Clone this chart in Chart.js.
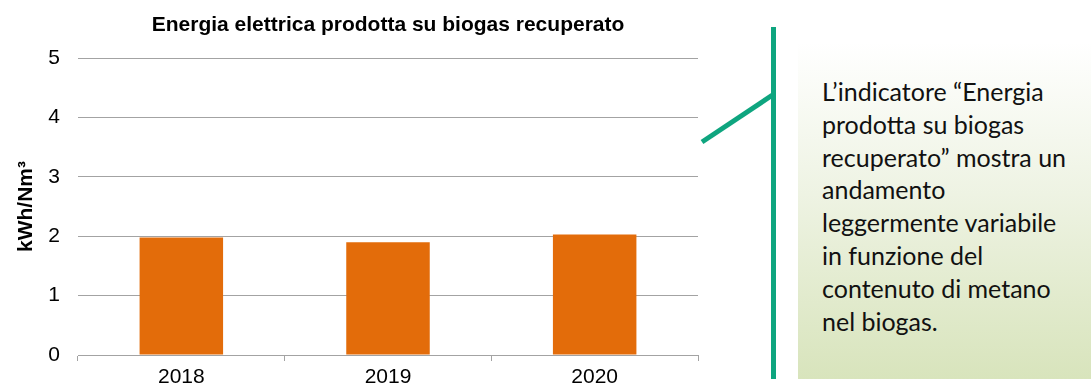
<!DOCTYPE html>
<html>
<head>
<meta charset="utf-8">
<script src="https://cdn.jsdelivr.net/npm/chart.js"></script>
<style>
    body { margin: 0; background: #fff; width: 1091px; height: 390px; position: relative; overflow: hidden; }
    #chartBox { position: absolute; left: 0; top: 0; width: 712px; height: 390px; }
    .green-bar { position: absolute; left: 771px; top: 27px; width: 5px; height: 352px; background: #0ea57f; }
    #connector { position: absolute; left: 0; top: 0; }
    .note {
        position: absolute; left: 798px; top: 42px; width: 293px; height: 337px;
        background: linear-gradient(to bottom, #ffffff 0%, #eef3e3 45%, #d8e4bc 100%);
    }
    .note p {
        margin: 0; position: absolute; left: 24px; top: 33px;
        font-family: Lato, sans-serif; font-size: 25px; line-height: 32.8px; color: #111;
    }
</style>
</head>
<body>
<div id="chartBox"><canvas id="energyChart" width="712" height="390"></canvas></div>
<svg id="connector" width="1091" height="390">
    <line x1="702" y1="142" x2="774" y2="94" stroke="#0ea57f" stroke-width="5"/>
</svg>
<div class="green-bar"></div>
<div class="note">
    <p>L’indicatore “Energia<br>prodotta su biogas<br>recuperato” mostra un<br>andamento<br>leggermente variabile<br>in funzione del<br>contenuto di metano<br>nel biogas.</p>
</div>

<script>
// Energia elettrica per Nm3 di biogas recuperato
const years = ['2018', '2019', '2020'];
const kwhPerNm3 = [1.98, 1.90, 2.03];
const yTicks = [0, 1, 2, 3, 4, 5];

const gridGray = '#a3a3a3';

new Chart(document.getElementById('energyChart'), {
    type: 'bar',
    data: {
        labels: years,
        datasets: [{
            data: kwhPerNm3,
            backgroundColor: '#e36c0a',
            barPercentage: 0.404,
            categoryPercentage: 1
        }]
    },
    options: {
        responsive: false,
        animation: false,
        layout: { padding: { left: 14, right: 14, top: 0, bottom: 0 } },
        plugins: {
            legend: { display: false },
            tooltip: { enabled: false },
            title: {
                display: true,
                fullSize: false,
                text: 'Energia elettrica prodotta su biogas recuperato',
                color: '#000',
                font: { family: 'Liberation Sans', size: 21, weight: 'bold' },
                padding: { top: 12.4, bottom: 20.4 }
            }
        },
        scales: {
            x: {
                grid: { drawOnChartArea: false, drawTicks: true, tickLength: 6, color: gridGray },
                border: { display: true, color: gridGray },
                ticks: {
                    color: '#000',
                    padding: 4,
                    font: { family: 'Liberation Sans', size: 21 }
                },
                afterFit: function(scale) { scale.height = 35; }
            },
            y: {
                min: yTicks[0],
                max: yTicks[yTicks.length - 1],
                afterBuildTicks: function(scale) {
                    scale.ticks = yTicks.map(v => ({ value: v }));
                },
                grid: { color: gridGray, drawTicks: false },
                border: { display: false },
                ticks: {
                    color: '#000',
                    padding: 18,
                    font: { family: 'Liberation Sans', size: 21 }
                },
                title: {
                    display: true,
                    text: 'kWh/Nm³',
                    color: '#000',
                    padding: 0,
                    font: { family: 'Liberation Sans', size: 21, weight: 'bold' }
                },
                afterFit: function(scale) { scale.width = 64; }
            }
        }
    }
});
</script>
</body>
</html>
